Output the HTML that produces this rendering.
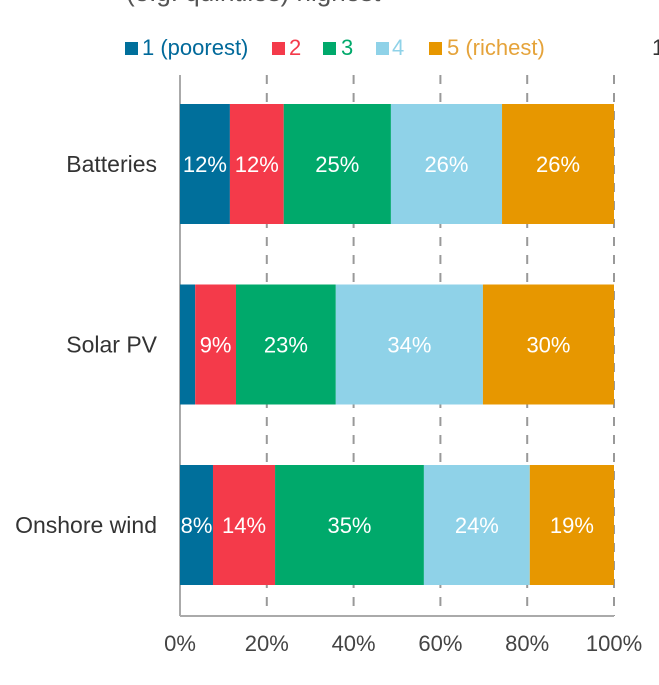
<!DOCTYPE html>
<html><head><meta charset="utf-8"><style>
body{margin:0;background:#fff;font-family:"Liberation Sans",sans-serif;}
svg text{font-family:"Liberation Sans",sans-serif;}
</style></head><body>
<svg id="c" width="659" height="680" xmlns="http://www.w3.org/2000/svg">
<text x="126" y="1" font-size="26" fill="#555">(e.g. quintiles) highest</text>
<g>
<rect x="125" y="42" width="13" height="13" fill="#006f9b"/>
<text x="142" y="55" font-size="22" fill="#00699a">1 (poorest)</text>
<rect x="272" y="42" width="13" height="13" fill="#f43a4a"/>
<text x="289" y="55" font-size="22" fill="#f43a4a">2</text>
<rect x="323" y="42" width="13" height="13" fill="#00a96b"/>
<text x="341" y="55" font-size="22" fill="#00a96b">3</text>
<rect x="376" y="42" width="13" height="13" fill="#8fd2e8"/>
<text x="392" y="55" font-size="22" fill="#8fd2e8">4</text>
<rect x="429" y="42" width="13" height="13" fill="#e79700"/>
<text x="447" y="55" font-size="22" fill="#e5a33a">5 (richest)</text>
<text x="652" y="55" font-size="22" fill="#333">1</text>
</g>
<g id="grid"></g><g id="bars"></g><g id="axis"></g>
</svg>
<script>
const categories=["Batteries","Solar PV","Onshore wind"];
const q1=[11.5,3.5,7.6];
const q2=[12.4,9.4,14.3];
const q3=[24.7,23.0,34.3];
const q4=[25.6,33.9,24.4];
const q5=[25.8,30.2,19.4];
const labels1=["12%","","8%"];
const labels2=["12%","9%","14%"];
const labels3=["25%","23%","35%"];
const labels4=["26%","34%","24%"];
const labels5=["26%","30%","19%"];
const ticks=[0,20,40,60,80,100];
const tickLabels=["0%","20%","40%","60%","80%","100%"];

const NS="http://www.w3.org/2000/svg";
const x=v=>180+v*4.34;
const yTop=i=>104+i*180.5;
const bh=120;
function mk(t,a,p){const e=document.createElementNS(NS,t);for(const k in a)e.setAttribute(k,a[k]);p.appendChild(e);return e;}
const grid=document.getElementById('grid'),bars=document.getElementById('bars'),axis=document.getElementById('axis');
ticks.forEach((t,i)=>{
  const l=mk('line',{x1:x(t),x2:x(t),y1:75,y2:616,stroke:i==0?'#aaa':'#999','stroke-width':2,'stroke-dasharray':i==0?'none':'9,9'},grid);
  
  
  const tx=mk('text',{x:x(t),y:651,'font-size':22,fill:'#444','text-anchor':'middle'},axis);
  tx.textContent=tickLabels[i];
  
  
});
const al=mk('line',{x1:x(0),x2:x(100),y1:616,y2:616,stroke:'#aaa','stroke-width':2},axis);


const series=[q1,q2,q3,q4,q5],labs=[labels1,labels2,labels3,labels4,labels5];
const colors=["#006f9b","#f43a4a","#00a96b","#8fd2e8","#e79700"];
categories.forEach((c,i)=>{
  const y=yTop(i);
  const ct=mk('text',{x:157,y:y+bh/2+8,'font-size':23,fill:'#333','text-anchor':'end'},axis);
  ct.textContent=c;
  
  
  let acc=0;
  series.forEach((s,j)=>{
    const v=s[i];
    const r=mk('rect',{x:x(acc),y:y,width:x(acc+v)-x(acc),height:bh,fill:colors[j]},bars);
    
    
    if(labs[j][i]){
      const t=mk('text',{x:(x(acc)+x(acc+v))/2,y:y+bh/2+8,'font-size':22,fill:'#fff','text-anchor':'middle'},bars);
      t.textContent=labs[j][i];
      
      
    }
    acc+=v;
  });
});
</script>
</body></html>
